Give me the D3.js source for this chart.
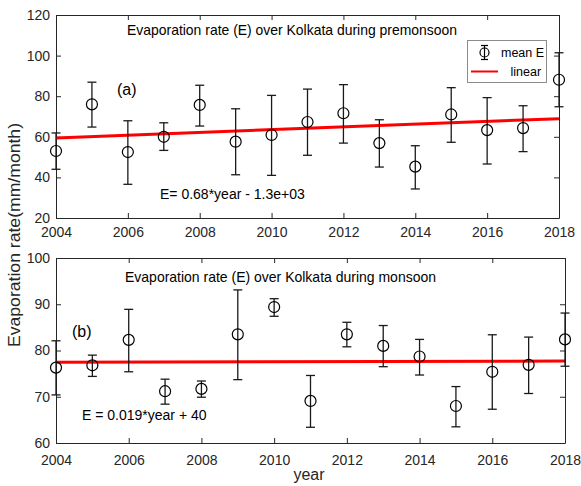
<!DOCTYPE html>
<html>
<head>
<meta charset="utf-8">
<script src="https://cdn.jsdelivr.net/npm/d3@7"></script>
<style>
  body { margin: 0; background: #fff; }
  svg { font-family: "Liberation Sans", Arial, sans-serif; }
  .axis path, .axis line { stroke: #262626; stroke-width: 1; }
  .axis text { fill: #262626; font-size: 14px; font-family: "Liberation Sans", Arial, sans-serif; }
</style>
</head>
<body>
<svg id="chart"></svg>
<script>
// data
const years = [2004, 2005, 2006, 2007, 2008, 2009, 2010, 2011, 2012, 2013, 2014, 2015, 2016, 2017, 2018];

// premonsoon (a)
const preMean = [53.0, 76.0, 52.5, 60.0, 75.7, 57.6, 60.9, 67.3, 71.6, 56.9, 45.3, 71.0, 63.3, 64.3, 88.1];
const preHigh = [61.9, 86.9, 67.9, 66.9, 85.4, 73.8, 80.4, 83.5, 85.7, 68.4, 55.6, 84.2, 79.3, 75.3, 101.4];
const preLow = [44.0, 64.8, 36.6, 53.3, 65.3, 41.3, 41.0, 50.9, 56.9, 45.1, 34.3, 57.3, 46.6, 52.7, 74.8];
const preFit = { slope: 0.68, intercept: -1303.3 };

// monsoon (b)
const monMean = [76.3, 76.8, 82.3, 71.2, 71.7, 83.5, 89.4, 69.1, 83.5, 81.0, 78.7, 68.0, 75.4, 76.9, 82.4];
const monHigh = [82.1, 79.0, 88.9, 73.8, 73.4, 93.1, 91.2, 74.6, 86.1, 85.4, 82.4, 72.2, 83.4, 82.9, 88.1];
const monLow = [70.4, 74.4, 75.4, 68.4, 69.9, 73.7, 87.4, 63.4, 80.8, 76.5, 74.7, 63.5, 67.3, 70.7, 76.6];
const monFit = { slope: 0.019, intercept: 39.37 };

const xTicks = [2004, 2006, 2008, 2010, 2012, 2014, 2016, 2018];
const preYTicks = [20, 40, 60, 80, 100, 120];
const monYTicks = [60, 70, 80, 90, 100];

const svg = d3.select("#chart").attr("width", 581).attr("height", 486);

function drawPanel(opt) {
  const x = d3.scaleLinear().domain([2004, 2018]).range(opt.xRange);
  const y = d3.scaleLinear().domain(opt.yDomain).range(opt.yRange);
  const g = svg.append("g");

  // axes, ticks pointing inward
  g.append("g").attr("class", "axis")
    .attr("transform", `translate(0,${opt.yRange[0]})`)
    .call(d3.axisBottom(x).tickValues(xTicks).tickFormat(d3.format("d"))
      .tickSizeInner(-5).tickSizeOuter(0).tickPadding(opt.xPad));
  g.append("g").attr("class", "axis")
    .attr("transform", `translate(0,${opt.yRange[1]})`)
    .call(d3.axisTop(x).tickValues(xTicks).tickFormat("")
      .tickSizeInner(-5).tickSizeOuter(0));
  g.append("g").attr("class", "axis")
    .attr("transform", `translate(${opt.xRange[0]},0)`)
    .call(d3.axisLeft(y).tickValues(opt.yTicks)
      .tickSizeInner(-5).tickSizeOuter(0).tickPadding(6));
  g.append("g").attr("class", "axis")
    .attr("transform", `translate(${opt.xRange[1]},0)`)
    .call(d3.axisRight(y).tickValues(opt.yTicks).tickFormat("")
      .tickSizeInner(-5).tickSizeOuter(0));

  // linear fit
  const fitLine = d3.line().x(d => x(d)).y(d => y(opt.fit.slope * d + opt.fit.intercept));
  g.append("path")
    .attr("d", fitLine([2004, 2018]))
    .attr("fill", "none")
    .attr("stroke", "#ff0000")
    .attr("stroke-width", 3);

  // error bars
  const pts = years.map((yr, i) => ({ yr, m: opt.mean[i], hi: opt.high[i], lo: opt.low[i] }));
  const eb = g.append("g").attr("stroke", "#1a1a1a").attr("stroke-width", 1.3).attr("fill", "none");
  eb.selectAll(".stem").data(pts).join("line")
    .attr("x1", d => x(d.yr)).attr("x2", d => x(d.yr))
    .attr("y1", d => y(d.lo)).attr("y2", d => y(d.hi));
  eb.selectAll(".capHi").data(pts).join("line")
    .attr("x1", d => x(d.yr) - 4.5).attr("x2", d => x(d.yr) + 4.5)
    .attr("y1", d => y(d.hi)).attr("y2", d => y(d.hi));
  eb.selectAll(".capLo").data(pts).join("line")
    .attr("x1", d => x(d.yr) - 4.5).attr("x2", d => x(d.yr) + 4.5)
    .attr("y1", d => y(d.lo)).attr("y2", d => y(d.lo));
  g.append("g").selectAll("circle").data(pts).join("circle")
    .attr("cx", d => x(d.yr)).attr("cy", d => y(d.m)).attr("r", 5.5)
    .attr("fill", "none").attr("stroke", "#000").attr("stroke-width", 1.2);

  // texts
  g.append("text").attr("x", opt.titlePos[0]).attr("y", opt.titlePos[1])
    .attr("textLength", opt.titleLen).attr("lengthAdjust", "spacingAndGlyphs")
    .style("font-size", "14.5px").attr("fill", "#000").text(opt.title);
  g.append("text").attr("x", opt.tagPos[0]).attr("y", opt.tagPos[1])
    .style("font-size", "16px").attr("fill", "#000").text(opt.tag);
  g.append("text").attr("x", opt.eqPos[0]).attr("y", opt.eqPos[1])
    .style("font-size", "14px").attr("fill", "#000").text(opt.eq);
  return { x, y, g };
}

const topPanel = drawPanel({
  xRange: [56, 559], yRange: [218, 15], yDomain: [20, 120], yTicks: preYTicks, xPad: 9,
  mean: preMean, high: preHigh, low: preLow, fit: preFit,
  title: "Evaporation rate (E) over Kolkata during premonsoon", titlePos: [127, 35], titleLen: 330,
  tag: "(a)", tagPos: [117, 95],
  eq: "E= 0.68*year - 1.3e+03", eqPos: [160, 199]
});

drawPanel({
  xRange: [56, 565], yRange: [443, 258], yDomain: [60, 100], yTicks: monYTicks, xPad: 12,
  mean: monMean, high: monHigh, low: monLow, fit: monFit,
  title: "Evaporation rate (E) over Kolkata during monsoon", titlePos: [125, 282], titleLen: 311,
  tag: "(b)", tagPos: [72, 337],
  eq: "E = 0.019*year + 40", eqPos: [82, 420]
});

// legend (top panel)
const lg = topPanel.g.append("g");
lg.append("rect").attr("x", 467.5).attr("y", 40.5).attr("width", 79).attr("height", 42)
  .attr("fill", "#fff").attr("stroke", "#8c8c8c").attr("stroke-width", 1);
const lgE = lg.append("g").attr("stroke", "#000").attr("fill", "none").attr("stroke-width", 1.2);
lgE.append("line").attr("x1", 484.5).attr("x2", 484.5).attr("y1", 45.5).attr("y2", 59.5);
lgE.append("line").attr("x1", 481).attr("x2", 488).attr("y1", 45.5).attr("y2", 45.5);
lgE.append("line").attr("x1", 481).attr("x2", 488).attr("y1", 59.5).attr("y2", 59.5);
lgE.append("circle").attr("cx", 484.5).attr("cy", 52.5).attr("r", 4.5);
lg.append("text").attr("x", 501).attr("y", 57).style("font-size", "12.5px").text("mean E");
lg.append("line").attr("x1", 471).attr("x2", 498).attr("y1", 71.5).attr("y2", 71.5)
  .attr("stroke", "#ff0000").attr("stroke-width", 2);
lg.append("text").attr("x", 510.5).attr("y", 76).style("font-size", "12.5px").text("linear");

// shared axis titles
svg.append("text")
  .attr("transform", "translate(20,235) rotate(-90)")
  .attr("text-anchor", "middle")
  .attr("textLength", 224).attr("lengthAdjust", "spacingAndGlyphs")
  .style("font-size", "16.5px").attr("fill", "#262626")
  .text("Evaporation rate(mm/month)");
svg.append("text")
  .attr("x", 309).attr("y", 480)
  .attr("text-anchor", "middle")
  .style("font-size", "16px").attr("fill", "#262626")
  .text("year");
</script>
</body>
</html>
